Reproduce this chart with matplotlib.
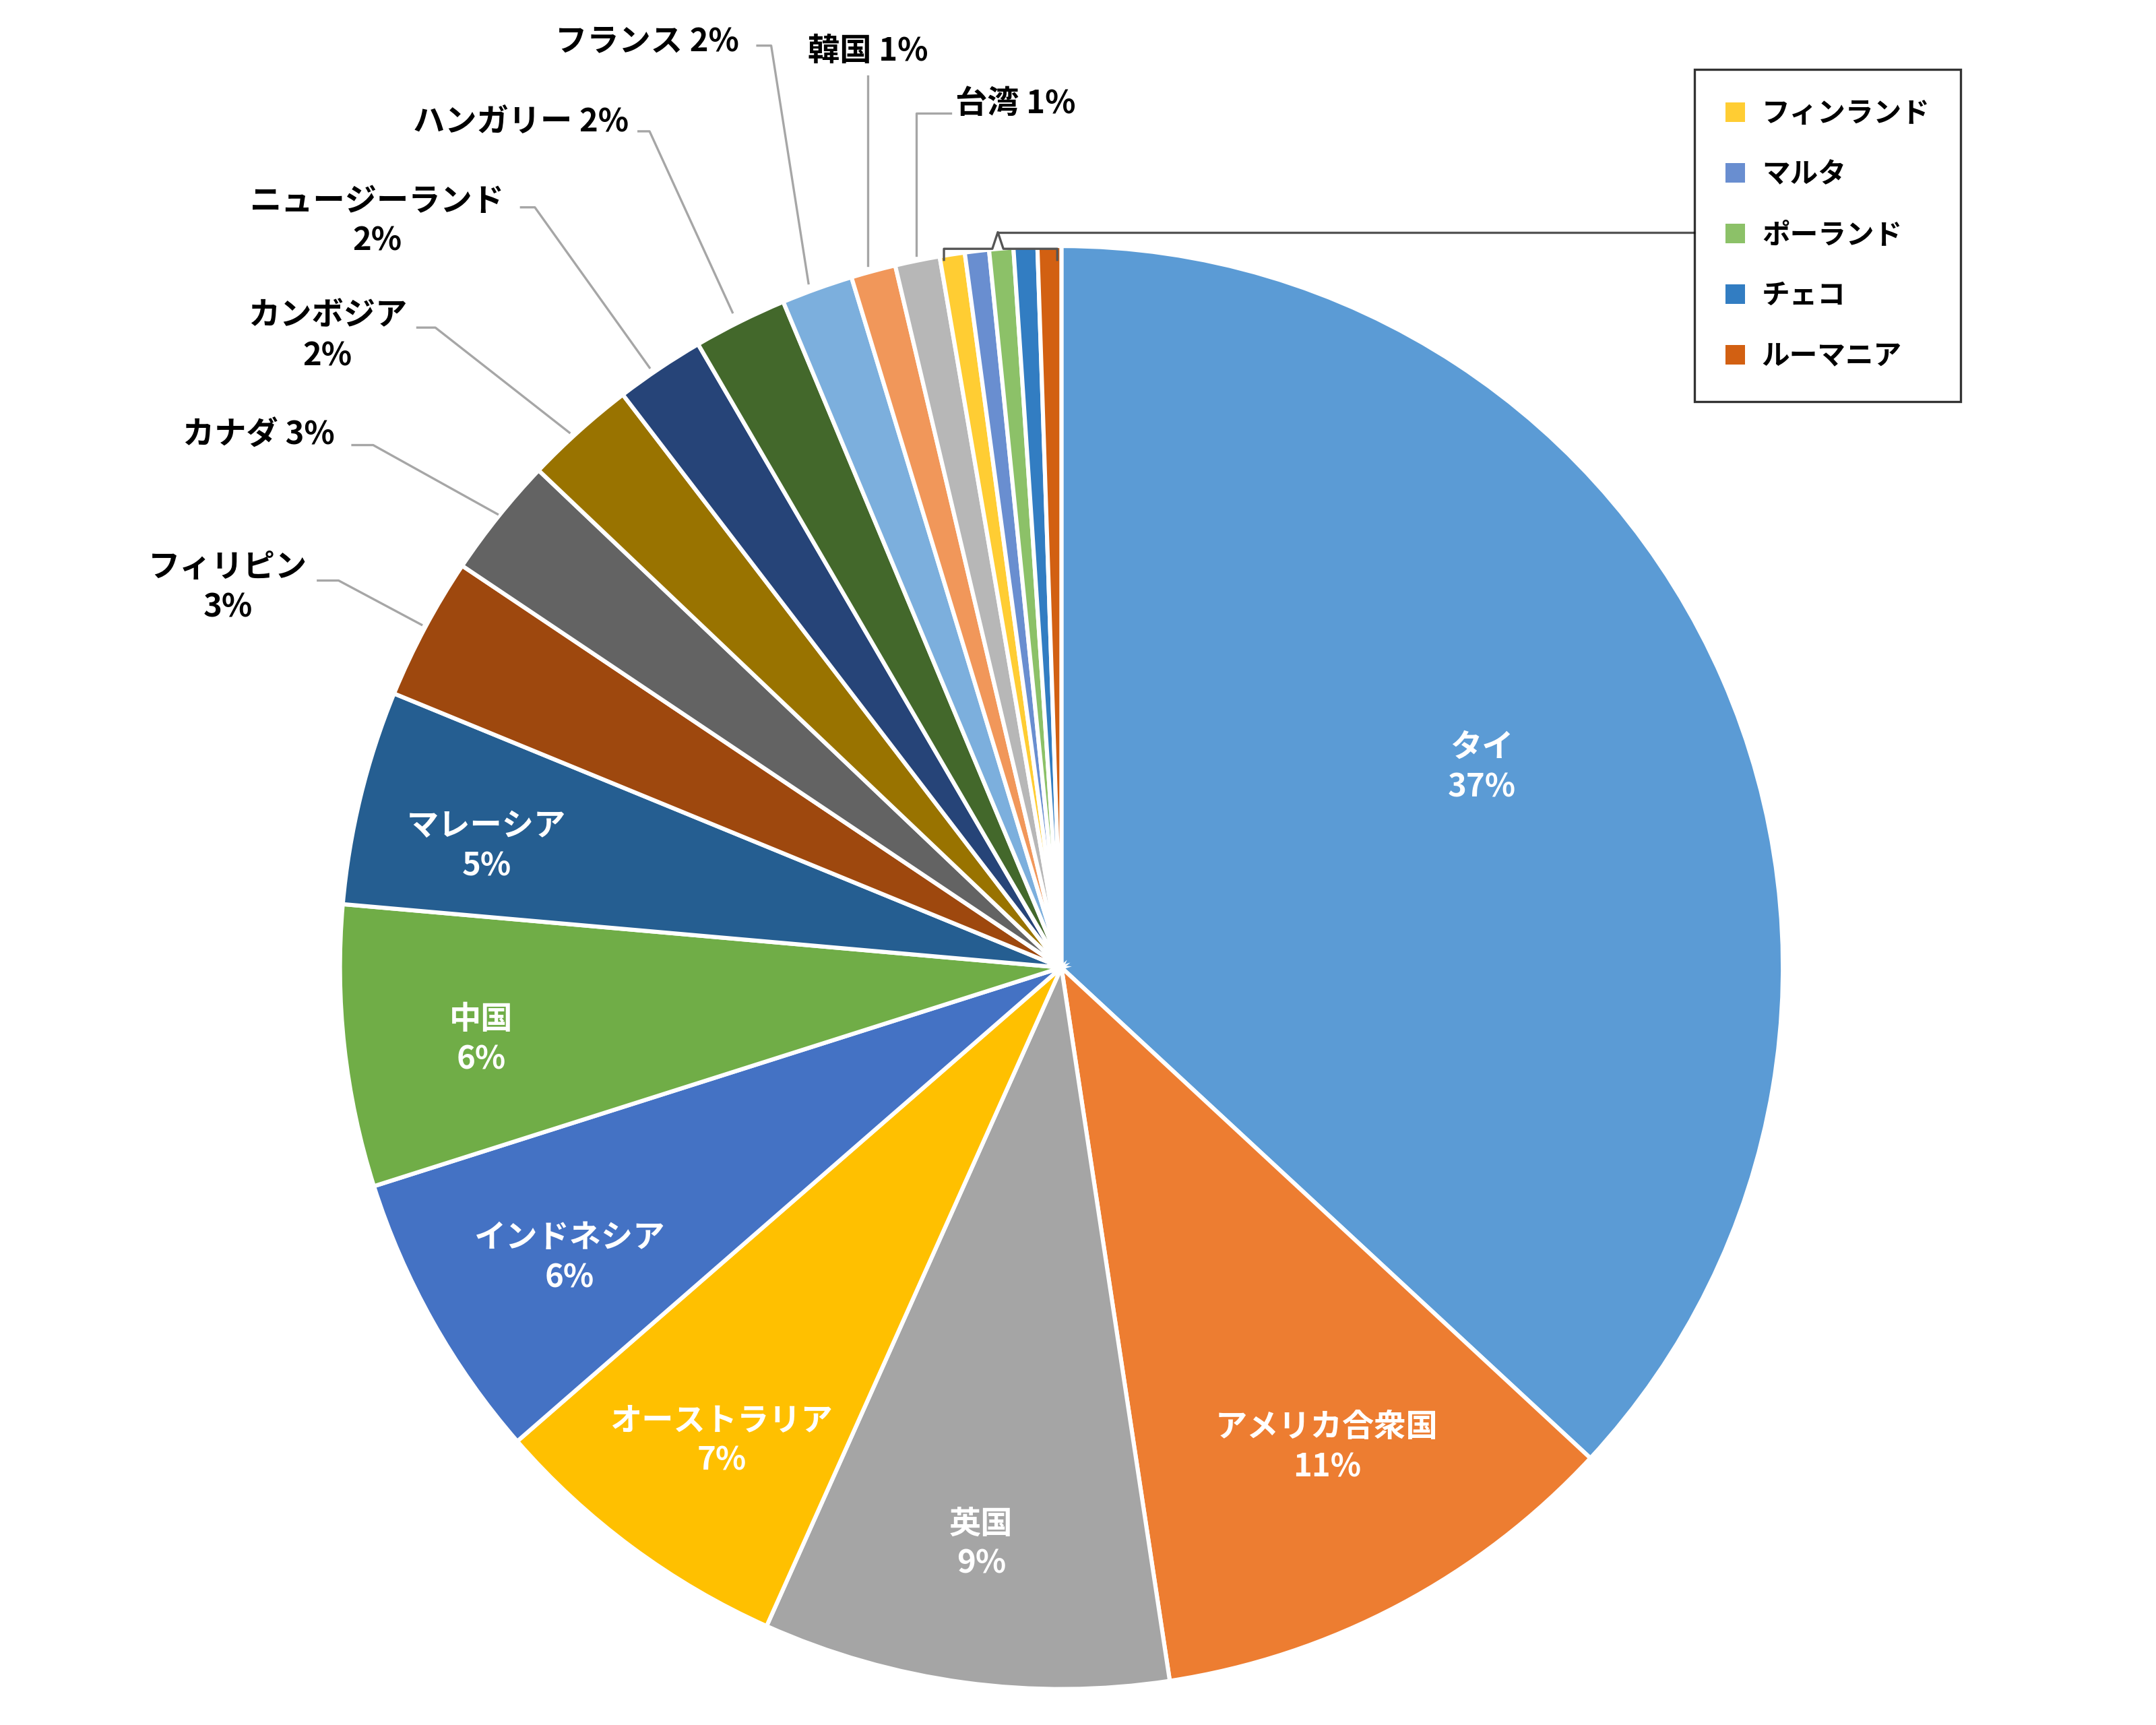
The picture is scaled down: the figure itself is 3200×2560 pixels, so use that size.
import matplotlib.pyplot as plt
from matplotlib.patches import Patch

plt.rcParams['font.family'] = ['Noto Sans CJK JP', 'DejaVu Sans']
plt.rcParams['font.weight'] = 'bold'

countries = ["タイ", "アメリカ合衆国", "英国", "オーストラリア", "インドネシア", "中国", "マレーシア",
             "フィリピン", "カナダ", "カンボジア", "ニュージーランド", "ハンガリー", "フランス", "韓国", "台湾",
             "フィンランド", "マルタ", "ポーランド", "チェコ", "ルーマニア"]
shares = [36.9, 10.7, 9.1, 6.9, 6.5, 6.3, 4.8, 3.2, 2.7, 2.5, 2.0, 2.1, 1.6, 1.0, 1.0,
          0.56, 0.54, 0.54, 0.53, 0.53]
pct_labels = ["37%", "11%", "9%", "7%", "6%", "6%", "5%", "3%", "3%", "2%", "2%", "2%", "2%", "1%", "1%"]
colors = ["#5B9BD5", "#ED7D31", "#A5A5A5", "#FFC000", "#4472C4", "#70AD47", "#255E91",
          "#9E480E", "#636363", "#997300", "#264478", "#43682B", "#7CAFDD", "#F1975A", "#B7B7B7",
          "#FFCD33", "#698ED0", "#8CC168", "#327DC2", "#D26012"]

R = 522.0
cx, cy = 768, 700
def P(px, py):
    return ((px - cx) / R, (cy - py) / R)

fig = plt.figure(figsize=(16, 12.8), dpi=200)
ax = fig.add_axes([0, 0, 1, 1])
wedges, _ = ax.pie(shares, colors=colors, startangle=90, counterclock=False,
                   wedgeprops=dict(edgecolor="white", linewidth=2.2))
ax.set_xlim(-cx / R, (1560 - cx) / R)
ax.set_ylim((cy - 1248) / R, cy / R)
ax.axis("off")

# labels inside the big slices
inside = {0: (1072, 555), 1: (960, 1047), 2: (710, 1117), 3: (522, 1042),
          4: (412, 910), 5: (348, 752), 6: (352, 612)}
for i, (px, py) in inside.items():
    x, y = P(px, py)
    ax.text(x, y, countries[i] + "\n" + pct_labels[i], color="white", fontsize=17,
            ha="center", va="center", linespacing=1.3)

# outside labels with leader lines
outside = {
    7: ((165, 425), True, [(230, 420), (245, 420), (305, 452)]),
    8: ((187, 315), False, [(255, 322), (270, 322), (360, 372)]),
    9: ((237, 243), True, [(302, 237), (315, 237), (412, 313)]),
    10: ((273, 160), True, [(377, 150), (387, 150), (470, 266)]),
    11: ((377, 88), False, [(462, 95), (470, 95), (530, 226)]),
    12: ((468, 30), False, [(548, 33), (558, 33), (585, 205)]),
    13: ((628, 37), False, [(628, 55), (628, 192)]),
    14: ((735, 75), False, [(688, 82), (663, 82), (663, 185)]),
}
for i, ((px, py), two_line, pts) in outside.items():
    x, y = P(px, py)
    sep = "\n" if two_line else " "
    ax.text(x, y, countries[i] + sep + pct_labels[i], fontsize=17, ha="center",
            va="center", linespacing=1.3, color="black")
    xs, ys = zip(*[P(a, b) for a, b in pts])
    ax.plot(xs, ys, color="#A6A6A6", lw=1.2)

# bracket over the tiny slices
bx, by = zip(*[P(a, b) for a, b in [(683, 188), (683, 180), (718, 180), (722, 168),
                                    (726, 180), (765, 180), (765, 188)]])
ax.plot(bx, by, color="#555555", lw=1.2)
lx, ly = zip(*[P(a, b) for a, b in [(722, 168), (1226, 168)]])
ax.plot(lx, ly, color="#555555", lw=1.2)

handles = [Patch(facecolor=colors[i], edgecolor="none") for i in range(15, 20)]
leg = ax.legend(handles, countries[15:], loc="upper left",
                bbox_to_anchor=(1226 / 1560, 1 - 50 / 1248), fontsize=15,
                frameon=True, fancybox=False, edgecolor="black",
                labelspacing=1.15, handlelength=0.7, handleheight=0.7,
                borderpad=1.1, handletextpad=0.6, borderaxespad=0)
leg.get_frame().set_linewidth(1.2)

fig.savefig("out.png", dpi=200, facecolor="white")
